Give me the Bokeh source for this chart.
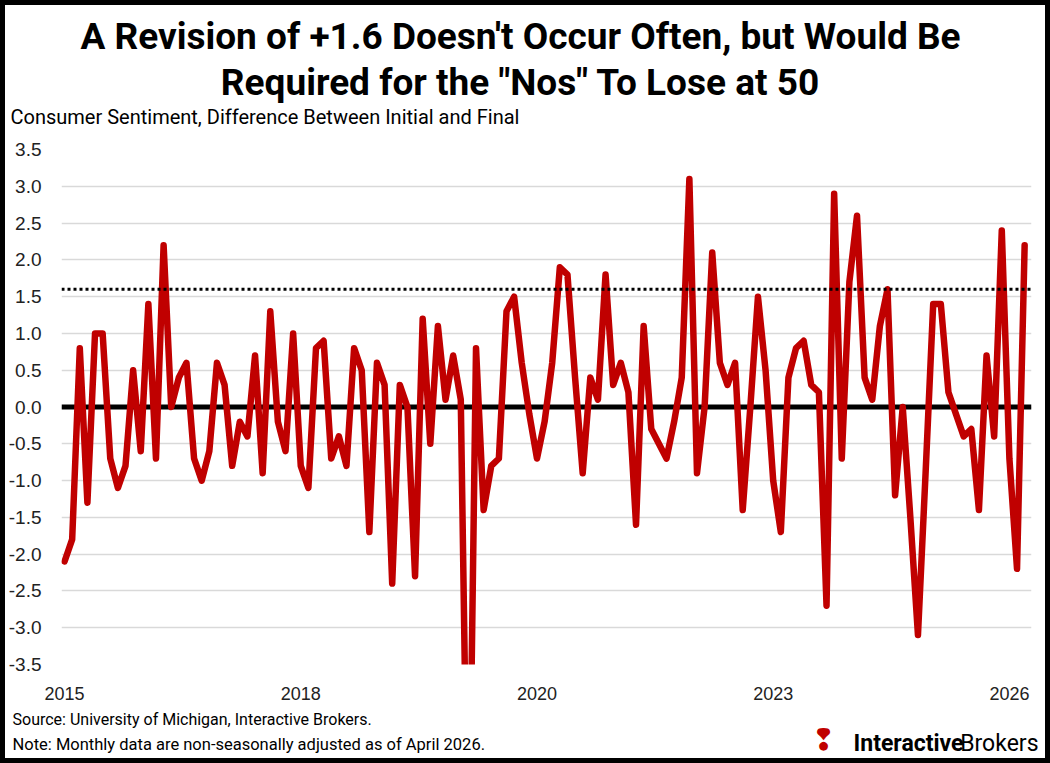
import pandas as pd
from bokeh.plotting import figure
from bokeh.models import Range1d, FixedTicker, Span, Label, NumeralTickFormatter
from bokeh.layouts import column
from bokeh.embed import file_html
from bokeh.resources import INLINE

# ---- data (monthly, Oct 2015 .. Apr 2026) ----
start_month = "2015-10-01"
revision = [
    -2.1, -1.8, 0.8, -1.3, 1.0, 1.0, -0.7, -1.1, -0.8, 0.5,
    -0.6, 1.4, -0.7, 2.2, 0.0, 0.4, 0.6, -0.7, -1.0, -0.6,
    0.6, 0.3, -0.8, -0.2, -0.4, 0.7, -0.9, 1.3, -0.2, -0.6,
    1.0, -0.8, -1.1, 0.8, 0.9, -0.7, -0.4, -0.8, 0.8, 0.5,
    -1.7, 0.6, 0.3, -2.4, 0.3, 0.0, -2.3, 1.2, -0.5, 1.1,
    0.1, 0.7, 0.1, -6.8, 0.8, -1.4, -0.8, -0.7, 1.3, 1.5,
    0.6, -0.1, -0.7, -0.2, 0.6, 1.9, 1.8, 0.4, -0.9, 0.4,
    0.1, 1.8, 0.3, 0.6, 0.2, -1.6, 1.1, -0.3, -0.5, -0.7,
    -0.2, 0.4, 3.1, -0.9, 0.0, 2.1, 0.6, 0.3, 0.6, -1.4,
    0.0, 1.5, 0.5, -1.0, -1.7, 0.4, 0.8, 0.9, 0.3, 0.2,
    -2.7, 2.9, -0.7, 1.7, 2.6, 0.4, 0.1, 1.1, 1.6, -1.2,
    0.0, -1.5, -3.1, -0.9, 1.4, 1.4, 0.2, -0.1, -0.4, -0.3,
    -1.4, 0.7, -0.4, 2.4, -0.7, -2.2, 2.2,
]
months = pd.date_range(start_month, periods=len(revision), freq="MS")
threshold = 1.6
label_every = 31
y_ticks = [-3.5, -3.0, -2.5, -2.0, -1.5, -1.0, -0.5, 0.0, 0.5, 1.0, 1.5, 2.0, 2.5, 3.0, 3.5]

title_lines = ["A Revision of +1.6 Doesn't Occur Often, but Would Be",
               "Required for the \"Nos\" To Lose at 50"]
subtitle = "Consumer Sentiment, Difference Between Initial and Final"
source_note = "Source: University of Michigan, Interactive Brokers."
data_note = "Note: Monthly data are non-seasonally adjusted as of April 2026."
brand_bold = "Interactive"
brand_regular = "Brokers"

TFONT = "Roboto"
SANS = "Liberation Sans"
RED = "#C00000"
W = 1040


def blank_panel(height):
    f = figure(width=W, height=height, output_backend="svg", toolbar_location=None,
               x_range=Range1d(0, W), y_range=Range1d(0, height),
               min_border=0, min_border_left=0, min_border_right=0,
               min_border_top=0, min_border_bottom=0, frame_align=False)
    f.title.visible = False
    f.axis.visible = False
    f.grid.visible = False
    f.outline_line_color = None
    return f


def add_label(f, text, x, y, size, font=TFONT, style="normal", align="left", color="black"):
    f.add_layout(Label(x=x, y=y, text=text, text_font=font, text_font_size=size,
                       text_font_style=style, text_align=align, text_baseline="middle",
                       text_color=color))


# ---- header ----
header = blank_panel(125)
add_label(header, title_lines[0], 515, 94, "37px", style="bold", align="center")
add_label(header, title_lines[1], 515, 48, "37px", style="bold", align="center")
add_label(header, subtitle, 5, 14, "20px")

# ---- main chart ----
x_idx = list(range(len(revision)))
p = figure(width=W, height=575, output_backend="svg", toolbar_location=None,
           x_range=Range1d(-0.4, 126.9), y_range=Range1d(y_ticks[0], y_ticks[-1]),
           min_border_left=55, min_border_right=14, min_border_top=19, min_border_bottom=41,
           frame_align=False)
p.title.visible = False
p.outline_line_color = None

p.xgrid.visible = False
p.ygrid.grid_line_color = "#d9d9d9"
p.ygrid.grid_line_width = 1.5

p.yaxis.ticker = FixedTicker(ticks=y_ticks)
p.yaxis.formatter = NumeralTickFormatter(format="0.0")
p.yaxis.axis_line_color = None
p.yaxis.major_tick_line_color = None
p.yaxis.minor_tick_line_color = None
p.yaxis.major_label_standoff = 14
p.yaxis.major_label_text_font = SANS
p.yaxis.major_label_text_font_size = "19px"
p.yaxis.major_label_text_color = "#222222"

xt = list(range(0, len(revision), label_every))
p.xaxis.ticker = FixedTicker(ticks=xt)
p.xaxis.major_label_overrides = {i: str(months[i].year) for i in xt}
p.xaxis.axis_line_color = None
p.xaxis.major_tick_line_color = None
p.xaxis.minor_tick_line_color = None
p.xaxis.major_label_standoff = 16
p.xaxis.major_label_text_font = SANS
p.xaxis.major_label_text_font_size = "18px"
p.xaxis.major_label_text_color = "#222222"

p.add_layout(Span(location=0, dimension="width", line_color="black", line_width=5, level="underlay"))
p.line(x=x_idx, y=revision, line_color=RED, line_width=6.5, line_join="round", line_cap="round")
p.add_layout(Span(location=threshold, dimension="width", line_color="black", line_width=3,
                  line_dash="3 3"))

# ---- footer ----
footer = blank_panel(53)
add_label(footer, source_note, 7, 39, "16px")
add_label(footer, data_note, 7, 14, "16.5px")
add_label(footer, brand_regular, 1033, 15, "23px", align="right")
add_label(footer, brand_bold, 958, 15, "23px", style="bold", align="right")
add_label(footer, "\u2762", 818, 19, "30px", font="DejaVu Sans", color=RED, align="center")

layout = column(header, p, footer, spacing=0, styles={"border": "5px solid black"})

open("out.html", "w").write(file_html(layout, INLINE))
